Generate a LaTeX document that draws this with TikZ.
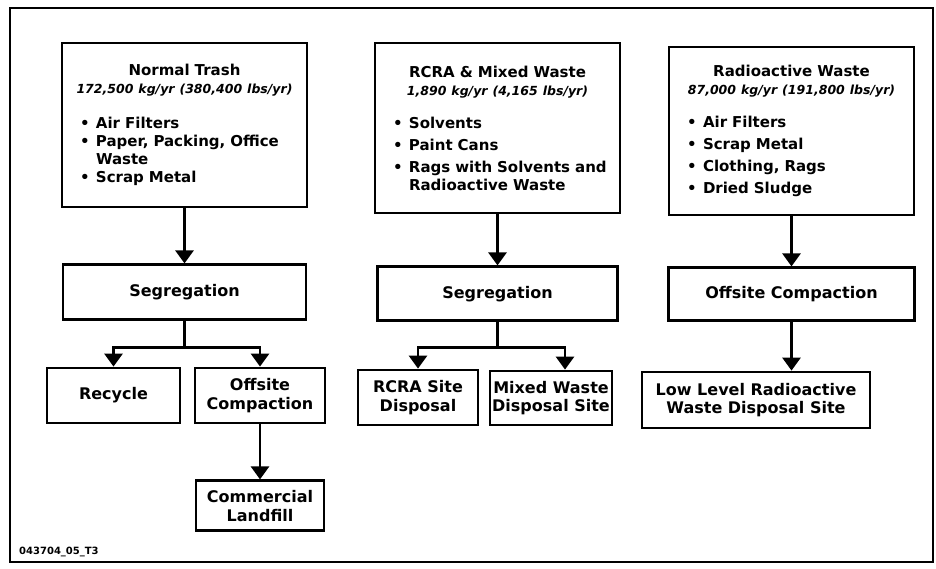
\documentclass[tikz,border=0pt]{standalone}
\usepackage{fontspec}
\setmainfont{DejaVu Sans}
\usepackage{tikz}
\usetikzlibrary{arrows.meta, positioning}

\newcommand{\puce}{\hspace*{14pt}\makebox[16pt][l]{\textbullet}}
\newcommand{\suite}{\hspace*{30pt}}
\newcommand{\masse}[1]{{\fontsize{12.5}{18}\selectfont\itshape #1}}

\tikzset{
  source/.style={rectangle, draw, line width=2.8pt,
    font=\fontsize{15}{18}\selectfont\bfseries, text width=237pt,
    inner xsep=4pt, inner ysep=0pt, align=left},
  etape/.style={rectangle, draw, line width=2.8pt,
    font=\fontsize{16}{18.5}\selectfont\bfseries, align=center, inner sep=2pt},
  fleche/.style={-{Triangle[length=13pt,width=18pt]}, line width=2.8pt},
  cadre/.style={line width=2.6pt},
  repere/.style={font=\fontsize{10}{12}\selectfont\bfseries, anchor=west, inner sep=0pt}
}

\begin{document}
\begin{tikzpicture}[x=1pt, y=-1pt]
  \useasboundingbox (0,0) rectangle (936,569);
  \draw[cadre] (10,8) rectangle (933,562);

  % sources
  \node[source, minimum height=164pt] (trash) at (184.5,125) {%
    {\centering Normal Trash\\ \masse{172,500 kg/yr (380,400 lbs/yr)}\par}
    \vspace{17pt}
    \puce Air Filters\\
    \puce Paper, Packing, Office\\
    \suite Waste\\
    \puce Scrap Metal};

  \node[source, minimum height=170pt] (rcra) at (497.5,128) {%
    {\centering RCRA \& Mixed Waste\\ \masse{1,890 kg/yr (4,165 lbs/yr)}\par}
    \vspace{15pt}
    \puce Solvents\\[4pt]
    \puce Paint Cans\\[4pt]
    \puce Rags with Solvents and\\
    \suite Radioactive Waste};

  \node[source, minimum height=168pt] (radio) at (791.5,131) {%
    {\centering Radioactive Waste\\ \masse{87,000 kg/yr (191,800 lbs/yr)}\par}
    \vspace{15pt}
    \puce Air Filters\\[4pt]
    \puce Scrap Metal\\[4pt]
    \puce Clothing, Rags\\[4pt]
    \puce Dried Sludge};

  % traitement
  \node[etape, minimum width=243pt, minimum height=55pt, below=55pt of trash] (seg1) {Segregation};
  \node[etape, minimum width=240pt, minimum height=54pt, below=51pt of rcra] (seg2) {Segregation};
  \node[etape, minimum width=246pt, minimum height=53pt, below=50pt of radio] (comp3) {Offsite Compaction};

  % destinations
  \node[etape, minimum width=133pt, minimum height=55pt] (recycle) at (113.5,395.5) {Recycle};
  \node[etape, minimum width=130pt, minimum height=55pt] (offsite) at (260,395.5) {Offsite\\Compaction};
  \node[etape, minimum width=128pt, minimum height=50pt, below=55pt of offsite] (landfill) {Commercial\\Landfill};
  \node[etape, minimum width=120pt, minimum height=55pt] (rcrasite) at (418,397.5) {RCRA Site\\Disposal};
  \node[etape, minimum width=122pt, minimum height=54pt] (mixed) at (551,398) {Mixed Waste\\Disposal Site};
  \node[etape, minimum width=228pt, minimum height=56pt] (lowlevel) at (756,400) {Low Level Radioactive\\Waste Disposal Site};

  \node[repere] (code) at (19,552) {043704\_05\_T3};

  \draw[fleche] (seg1.north |- trash.south) -- (seg1.north);
  \draw[fleche] (seg2.north |- rcra.south) -- (seg2.north);
  \draw[fleche] (comp3.north |- radio.south) -- (comp3.north);
  \draw[fleche] (seg1.south) -- ++(0,26) -| (recycle.north);
  \draw[fleche] (seg1.south) -- ++(0,26) -| (offsite.north);
  \draw[fleche] (offsite.south) -- (offsite.south |- landfill.north);
  \draw[fleche] (seg2.south) -- ++(0,25) -| (rcrasite.north);
  \draw[fleche] (seg2.south) -- ++(0,25) -| ([xshift=14pt]mixed.north);
  \draw[fleche] (comp3.south) -- (comp3.south |- lowlevel.north);
\end{tikzpicture}
\end{document}
